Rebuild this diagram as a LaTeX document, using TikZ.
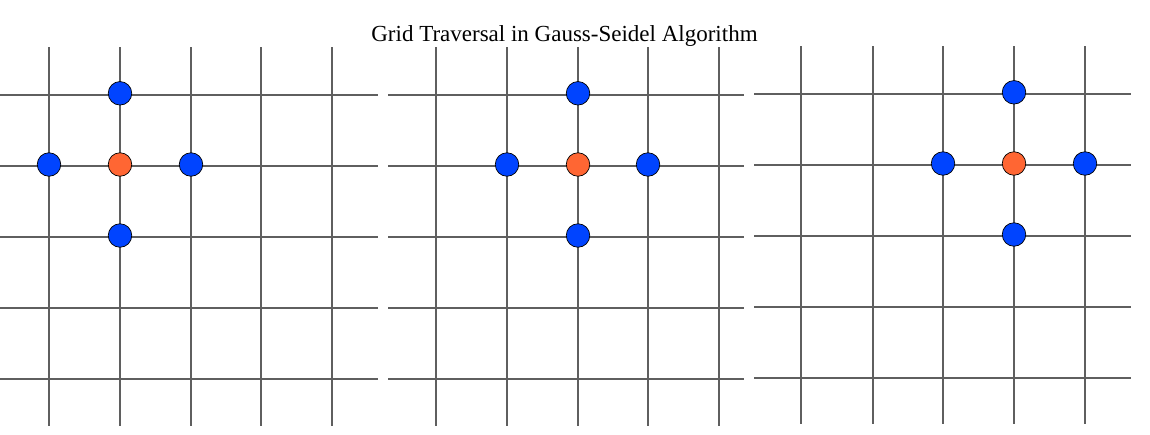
\documentclass[tikz,border=0pt]{standalone}
\usepackage{fontspec}
\setmainfont{Liberation Serif}
\definecolor{ptblue}{RGB}{0,68,255}
\definecolor{ptorange}{RGB}{255,102,51}
\definecolor{gridgray}{RGB}{95,95,95}
\begin{document}
\begin{tikzpicture}[x=1pt,y=-1pt,
  gridline/.style={draw=gridgray,line width=1.8pt},
  pt/.style={circle,draw=black,line width=0.7pt,minimum size=23.5pt,inner sep=0pt},
  nbr/.style={pt,fill=ptblue},
  ctr/.style={pt,fill=ptorange},
  titletext/.style={font=\fontsize{23}{26}\selectfont,inner sep=0pt}]
\useasboundingbox (0,0) rectangle (1150,434);
\fill[white] (0,0) rectangle (1150,434);
\node[titletext] (title) at (564.5,36) {Grid Traversal in Gauss-Seidel Algorithm};
% panel 1
\foreach \x in {49,120,191,261,332} \draw[gridline] (\x,47) -- (\x,426);
\foreach \y in {95,166,237,308,379} \draw[gridline] (0,\y) -- (378,\y);
% panel 2
\foreach \x in {436,507,578,648,719} \draw[gridline] (\x,47) -- (\x,426);
\foreach \y in {95,166,237,308,379} \draw[gridline] (388,\y) -- (744,\y);
% panel 3
\foreach \x in {801,873,943,1014,1085} \draw[gridline] (\x,46) -- (\x,424);
\foreach \y in {94,165,236,307,378} \draw[gridline] (754,\y) -- (1131,\y);
% panel 1 points
\node[nbr] (a-n) at (120,93.3) {};
\node[nbr] (a-w) at (49,164.5) {};
\node[ctr] (a-c) at (120,164.5) {};
\node[nbr] (a-e) at (191,164.5) {};
\node[nbr] (a-s) at (120,235.5) {};
% panel 2 points
\node[nbr] (b-n) at (578,93.3) {};
\node[nbr] (b-w) at (507,164.5) {};
\node[ctr] (b-c) at (578,164.5) {};
\node[nbr] (b-e) at (648,164.5) {};
\node[nbr] (b-s) at (578,235.5) {};
% panel 3 points
\node[nbr] (c-n) at (1014,92.3) {};
\node[nbr] (c-w) at (943,163.5) {};
\node[ctr] (c-c) at (1014,163.5) {};
\node[nbr] (c-e) at (1085,163.5) {};
\node[nbr] (c-s) at (1014,234.5) {};
\end{tikzpicture}
\end{document}
